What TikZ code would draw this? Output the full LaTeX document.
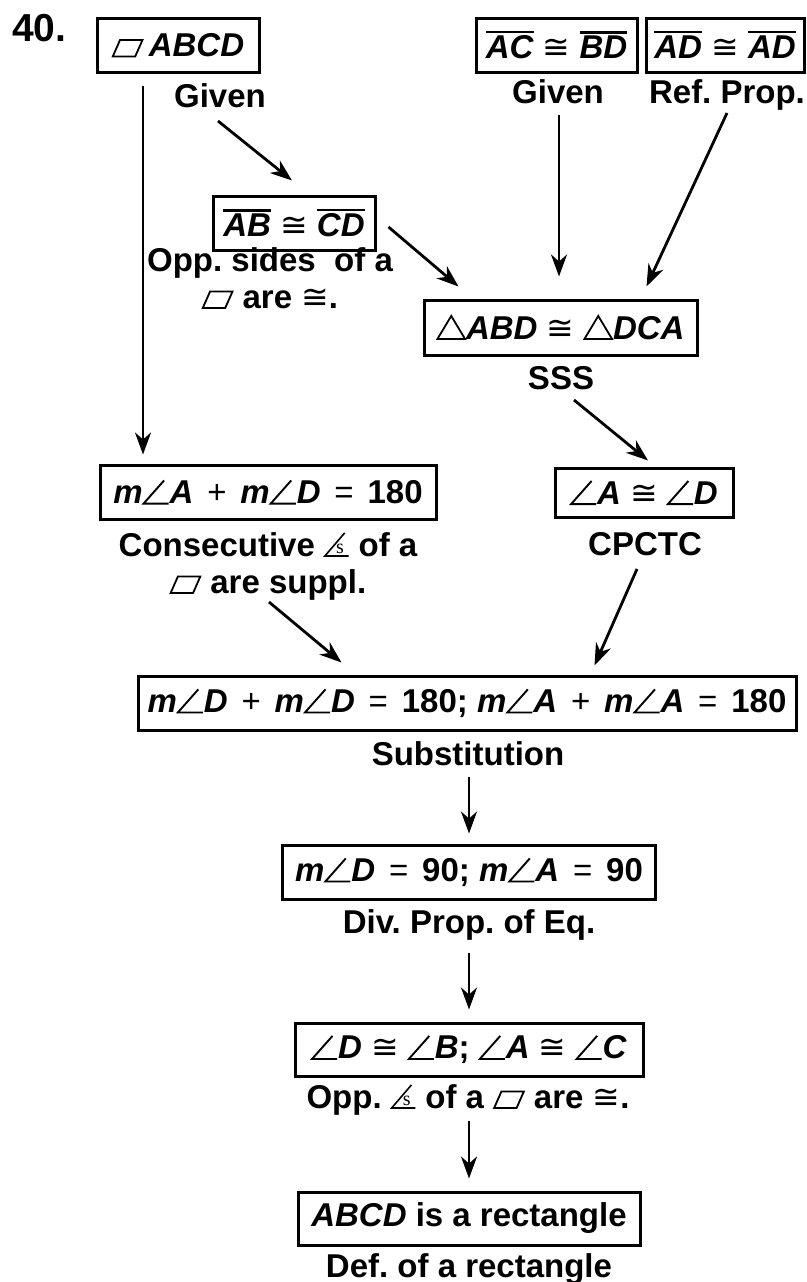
\documentclass[tikz,border=0pt]{standalone}
\usepackage{fontspec}
\setmainfont{Liberation Sans}
\newfontfamily\symfont{DejaVu Sans}
\newfontfamily\serfont{Liberation Serif}
\usetikzlibrary{arrows.meta}
\frenchspacing

% small glyphs drawn by hand
\newcommand{\pgram}{\tikz[baseline=0pt]\draw[line width=1.8pt, line join=miter] (0,0) -- (0.68em,0) -- (0.9em,0.5em) -- (0.22em,0.5em) -- cycle;}
\newcommand{\angl}{\tikz[baseline=0pt]\draw[line width=1.9pt] (0.66em,0.7em) -- (0.04em,0) -- (0.8em,0);}
\newcommand{\trig}{\tikz[baseline=0pt]\draw[line width=1.8pt, line join=miter] (0,0) -- (0.84em,0) -- (0.42em,0.7em) -- cycle;}
\newcommand{\angs}{\tikz[baseline=0pt]{\draw[line width=1.6pt] (0.6em,0.7em) -- (0,0) -- (0.72em,0);
  \node[inner sep=0pt, anchor=base, font=\serfont\mdseries\fontsize{20}{20}\selectfont] at (0.46em,0.08em) {s};}}
\newcommand{\cng}{{\symfont\mdseries ≅}}
\newcommand{\ovl}[1]{\vbox{\hrule height 2.2pt\kern 2.5pt\hbox{\itshape #1}}}
\newcommand{\op}[1]{\hspace{0.42em}{\mdseries #1}\hspace{0.42em}}

\tikzset{
  stmt/.style={draw, line width=3pt, minimum height=54pt, inner sep=0pt},
  why/.style={align=center, inner sep=0pt, anchor=base},
  arr/.style={-{Stealth[length=22pt, width=16pt, inset=7pt]}, line width=2.8pt},
}

\begin{document}
\begin{tikzpicture}[x=1pt, y=-1pt, font=\fontsize{33}{37}\selectfont\bfseries]
  \useasboundingbox (0,0) rectangle (806,1282);

  \node[font=\fontsize{39}{40}\selectfont\bfseries, anchor=base west, inner sep=0pt] (num) at (12,41) {40.};

  % givens
  \node[stmt, minimum width=162pt] (abcd) at (178,45.5) {\pgram\,\textit{ABCD}};
  \node[why] (given1) at (220,107) {Given};
  \node[stmt, minimum width=161pt] (acbd) at (556.5,45) {\ovl{AC} \cng\ \ovl{BD}};
  \node[why] (given2) at (558,103) {Given};
  \node[stmt, minimum width=158pt] (adad) at (725,45) {\ovl{AD} \cng\ \ovl{AD}};
  \node[why] (refl) at (727,103) {Ref. Prop.};

  \node[stmt, minimum width=162pt] (ab) at (294,223) {\ovl{AB} \cng\ \ovl{CD}};
  \node[why] (oppside) at (270,308) {Opp. sides\ \ of a\\\pgram\ are \cng.};

  \node[stmt, minimum width=273pt, minimum height=55pt] (tri) at (560.5,327.5) {\trig\textit{ABD} \cng\ \trig\textit{DCA}};
  \node[why] (sss) at (561,389) {SSS};

  % middle row
  \node[stmt, minimum width=336pt] (sumA) at (268,492) {\textit{m}\angl\textit{A}\op{+}\textit{m}\angl\textit{D}\op{=}180};
  \node[why] (consec) at (268,593) {Consecutive \angs\ of a\\\pgram\ are suppl.};
  \node[stmt, minimum width=178pt, minimum height=49pt] (angAD) at (644,492.5) {\angl\textit{A} \cng\ \angl\textit{D}};
  \node[why] (cpctc) at (645,555) {CPCTC};

  % chain
  \node[stmt, minimum width=658pt] (subst) at (467,703) {\textit{m}\angl\textit{D}\op{+}\textit{m}\angl\textit{D}\op{=}180; \textit{m}\angl\textit{A}\op{+}\textit{m}\angl\textit{A}\op{=}180};
  \node[why] (substr) at (468,765) {Substitution};
  \node[stmt, minimum width=373pt] (ninety) at (469,872) {\textit{m}\angl\textit{D}\op{=}90; \textit{m}\angl\textit{A}\op{=}90};
  \node[why] (divp) at (469,933) {Div. Prop. of Eq.};
  \node[stmt, minimum width=348pt, minimum height=53pt] (oppang) at (469,1049.5) {\angl\textit{D} \cng\ \angl\textit{B}; \angl\textit{A} \cng\ \angl\textit{C}};
  \node[why] (oppr) at (468,1108) {Opp. \angs\ of a \pgram\ are \cng.};
  \node[stmt, minimum width=342pt, minimum height=53pt] (rect) at (469,1218.5) {\textit{ABCD} is a rectangle};
  \node[why] (defr) at (469,1277) {Def. of a rectangle};

  % arrows
  \draw[arr] ([xshift=-35pt, yshift=-12pt]abcd.south) -- ([xshift=-125pt, yshift=9pt]sumA.north);
  \draw[arr] ([xshift=-2pt, yshift=-14pt]given1.base) -- ([xshift=-2pt, yshift=14pt]ab.north);
  \draw[arr] ([xshift=12pt, yshift=-4pt]ab.east) -- ([xshift=36pt, yshift=12pt]tri.north west);
  \draw[arr] ([xshift=1pt, yshift=-12pt]given2.base) -- ([xshift=-1.5pt, yshift=22pt]tri.north);
  \draw[arr] ([yshift=-10pt]refl.base) -- ([xshift=-52pt, yshift=12pt]tri.north east);
  \draw[arr] ([xshift=13pt, yshift=-11pt]sss.base) -- ([xshift=4pt, yshift=6pt]angAD.north);
  \draw[arr] ([xshift=1pt, yshift=-9pt]consec.base) -- ([xshift=205pt, yshift=12pt]subst.north west);
  \draw[arr] ([xshift=-8pt, yshift=-14pt]cpctc.base) -- ([xshift=-203pt, yshift=9pt]subst.north east);
  \draw[arr] ([yshift=-12pt]substr.base -| ninety.north) -- ([yshift=10pt]ninety.north);
  \draw[arr] ([yshift=-20pt]divp.base -| oppang.north) -- ([yshift=12pt]oppang.north);
  \draw[arr] ([yshift=-13pt]oppr.base -| rect.north) -- ([yshift=12pt]rect.north);
\end{tikzpicture}
\end{document}
